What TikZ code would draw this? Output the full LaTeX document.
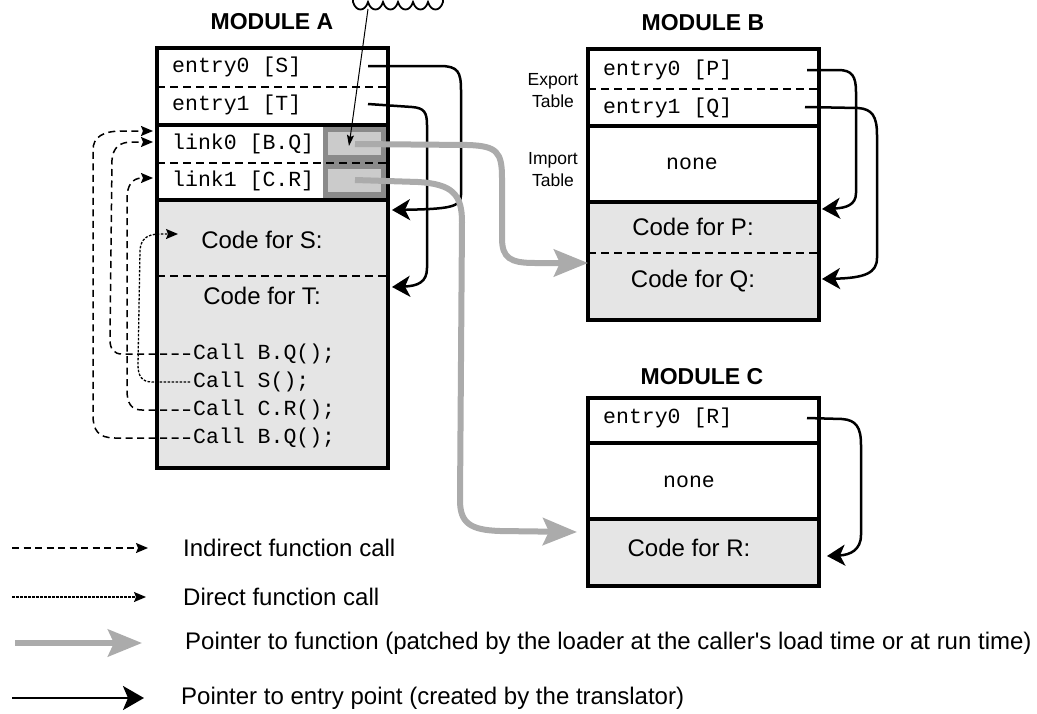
\documentclass[tikz,border=0pt]{standalone}
\usepackage{fontspec}
\setmainfont{Liberation Sans}[Ligatures=TeXOff]
\setmonofont{Liberation Mono}
\usetikzlibrary{arrows.meta}

\definecolor{codefill}{HTML}{E5E5E5}
\definecolor{ptrgray}{HTML}{ABABAB}
\definecolor{slotframe}{HTML}{8A8A8A}
\definecolor{slotfill}{HTML}{CBCBCB}

\tikzset{
  modframe/.style={line width=3.3pt},
  rowsep/.style={line width=1.5pt, dash pattern=on 8pt off 5pt},
  mono/.style={inner sep=0pt, font=\ttfamily\fontsize{21.5}{24}\selectfont},
  sans/.style={inner sep=0pt, font=\fontsize{24}{28}\selectfont},
  small/.style={inner sep=0pt, align=center, font=\fontsize{17.5}{22}\selectfont},
  title/.style={inner sep=0pt, font=\bfseries\fontsize{23}{27}\selectfont},
  entryptr/.style={line width=2.5pt, -{Stealth[length=18pt,width=21pt,inset=5pt]}},
  funcptr/.style={line width=6pt, ptrgray, -{Stealth[length=34pt,width=27pt,inset=6pt]}},
  icall/.style={line width=1.5pt, dash pattern=on 7pt off 4.5pt, -{Stealth[length=12pt,width=10pt,inset=2pt]}},
  dcall/.style={line width=1.3pt, dash pattern=on 2.5pt off 1.5pt, -{Stealth[length=12pt,width=10pt,inset=2pt]}},
  note/.style={line width=1pt, -{Stealth[length=11pt,width=7pt,inset=2pt]}},
}

\begin{document}
\begin{tikzpicture}[x=1pt,y=-1pt]
\useasboundingbox (0,0) rectangle (1037,713);

% ---------------- Module A ----------------
\node[title] (titleA) at (272,22) {MODULE A};
\fill[codefill] (157,200) rectangle (388,468);
\fill[slotframe] (323,125) rectangle (388,200);
\fill[slotfill] (328,132) rectangle (381,155);
\fill[slotfill] (328,169) rectangle (381,192);
\draw[rowsep] (157,87) -- (388,87);
\draw[rowsep] (157,163) -- (388,163);
\draw[rowsep] (157,276) -- (388,276);
\draw[modframe] (157,125) -- (388,125);
\draw[modframe] (157,200) -- (388,200);
\draw[modframe] (157,48) rectangle (388,468);

\node[mono,anchor=west] (a0) at (172,67) {entry0 [S]};
\node[mono,anchor=west] (a1) at (172,105) {entry1 [T]};
\node[mono,anchor=west] (l0) at (172,144) {link0 [B.Q]};
\node[mono,anchor=west] (l1) at (172,181) {link1 [C.R]};
\node[sans] (codeS) at (262,240) {Code for S:};
\node[sans] (codeT) at (262,296) {Code for T:};
\node[mono,anchor=west] (c1) at (193,354) {Call B.Q();};
\node[mono,anchor=west] (c2) at (193,382) {Call S();};
\node[mono,anchor=west] (c3) at (193,410) {Call C.R();};
\node[mono,anchor=west] (c4) at (193,438) {Call B.Q();};

% ---------------- Module B ----------------
\node[title] (titleB) at (703,23) {MODULE B};
\fill[codefill] (588,202) rectangle (819,320);
\draw[rowsep] (588,89) -- (819,89);
\draw[rowsep] (588,253) -- (819,253);
\draw[modframe] (588,126) -- (819,126);
\draw[modframe] (588,202) -- (819,202);
\draw[modframe] (588,49) rectangle (819,320);

\node[mono,anchor=west] (b0) at (603,70) {entry0 [P]};
\node[mono,anchor=west] (b1) at (603,108) {entry1 [Q]};
\node[mono] (noneB) at (692,164) {none};
\node[sans] (codeP) at (693,227) {Code for P:};
\node[sans] (codeQ) at (693,281) {Code for Q:};
\node[small] (exportlbl) at (553,91) {Export\\Table};
\node[small] (importlbl) at (553,170) {Import\\Table};

% ---------------- Module C ----------------
\node[title] (titleC) at (702,377) {MODULE C};
\fill[codefill] (588,519) rectangle (819,586);
\draw[modframe] (588,443) -- (819,443);
\draw[modframe] (588,519) -- (819,519);
\draw[modframe] (588,398) rectangle (819,586);

\node[mono,anchor=west] (c0) at (603,418) {entry0 [R]};
\node[mono] (noneC) at (689,482) {none};
\node[sans] (codeR) at (689,548) {Code for R:};

% ---------------- connector ends ----------------
\coordinate (a0end) at (368,66);
\coordinate (a1end) at (368,104);
\coordinate (Sin) at (392,210);
\coordinate (Tin) at (392,287);
\coordinate (b0end) at (807,70);
\coordinate (b1end) at (805,107);
\coordinate (Pin) at (822,209);
\coordinate (Qin) at (822,279);
\coordinate (c0end) at (807,418);
\coordinate (Rin) at (827,556);
\coordinate (l0slot) at (355,144);
\coordinate (l1slot) at (355,180);
\coordinate (Qentry) at (588,263);
\coordinate (Rentry) at (577,532);
\coordinate (l0in) at (153,131);
\coordinate (l0in2) at (153,142);
\coordinate (l1in) at (153,178);
\coordinate (Sentry) at (178,234);
\coordinate (c1out) at (190,354);
\coordinate (c2out) at (190,382);
\coordinate (c3out) at (190,410);
\coordinate (c4out) at (190,438);
\coordinate (cloudfoot) at (368,9);
\coordinate (slotmark) at (349,146);

% cloud at the top edge
\draw[line width=1.8pt]
  (353,2) .. controls (356,12) and (365,12) .. (368,2)
  .. controls (371,12) and (380,12) .. (383,2)
  .. controls (386,12) and (395,12) .. (398,2)
  .. controls (401,12) and (410,12) .. (413,2)
  .. controls (416,12) and (425,12) .. (428,2)
  .. controls (431,12) and (440,12) .. (443,2)
  -- (443,-5) -- (353,-5) -- cycle;
\draw[note] (cloudfoot) -- (slotmark);

% ---------------- pointers to entry points ----------------
\draw[entryptr] (a0end) -- (440,66) .. controls (458,66) and (461,72) .. (461,90)
  -- (461,195) .. controls (461,207) and (450,209) .. (Sin);
\draw[entryptr] (a1end) -- (412,107) .. controls (424,108) and (427,112) .. (427,125)
  -- (427,268) .. controls (427,282) and (418,286) .. (Tin);
\draw[entryptr] (b0end) -- (838,70) .. controls (852,70) and (856,76) .. (856,92)
  -- (856,193) .. controls (856,205) and (846,208) .. (Pin);
\draw[entryptr] (b1end) -- (858,108) .. controls (872,109) and (877,116) .. (877,135)
  -- (877,258) .. controls (877,273) and (865,278) .. (Qin);
\draw[entryptr] (c0end) -- (842,419) .. controls (856,420) and (861,427) .. (861,445)
  -- (861,535) .. controls (861,550) and (850,555) .. (Rin);

% ---------------- indirect and direct calls ----------------
\draw[icall] (c4out) -- (115,438) .. controls (98,438) and (93,430) .. (93,415)
  -- (93,150) .. controls (93,137) and (103,131) .. (122,131) -- (l0in);
\draw[icall] (c1out) -- (122,354) .. controls (114,354) and (110,349) .. (110,340)
  -- (112,160) .. controls (113,148) and (119,142) .. (132,142) -- (l0in2);
\draw[icall] (c3out) -- (142,410) .. controls (131,410) and (127,403) .. (127,390)
  -- (127,198) .. controls (127,186) and (132,178) .. (142,178) -- (l1in);
\draw[dcall] (c2out) -- (152,382) .. controls (142,382) and (138,376) .. (138,365)
  -- (140,250) .. controls (141,239) and (147,234) .. (160,234) -- (Sentry);

% ---------------- pointers to functions ----------------
\draw[funcptr] (l0slot) -- (468,145) .. controls (497,146) and (502,152) .. (502,178)
  -- (502,238) .. controls (502,258) and (510,263) .. (535,263) -- (Qentry);
\draw[funcptr] (l1slot) -- (418,182) .. controls (452,184) and (462,194) .. (462,222)
  -- (460,500) .. controls (460,523) and (470,530) .. (500,531) -- (Rentry);

% ---------------- legend ----------------
\coordinate (lg1a) at (12,548);   \coordinate (lg1b) at (148,548);
\coordinate (lg2a) at (12,597);   \coordinate (lg2b) at (146,597);
\coordinate (lg3a) at (15,643);   \coordinate (lg3b) at (142,643);
\coordinate (lg4a) at (12,698);   \coordinate (lg4b) at (144,698);
\draw[icall] (lg1a) -- (lg1b);
\draw[dcall] (lg2a) -- (lg2b);
\draw[funcptr] (lg3a) -- (lg3b);
\draw[line width=2.5pt, -{Stealth[length=21pt,width=24pt,inset=5pt]}] (lg4a) -- (lg4b);
\node[sans,anchor=west] (lgt1) at (183,548) {Indirect function call};
\node[sans,anchor=west] (lgt2) at (183,597) {Direct function call};
\node[sans,anchor=west] (lgt3) at (185,643) {Pointer to function (patched by the loader at the caller's load time or at run time)};
\node[sans,anchor=west] (lgt4) at (181,698) {Pointer to entry point (created by the translator)};
\end{tikzpicture}
\end{document}
